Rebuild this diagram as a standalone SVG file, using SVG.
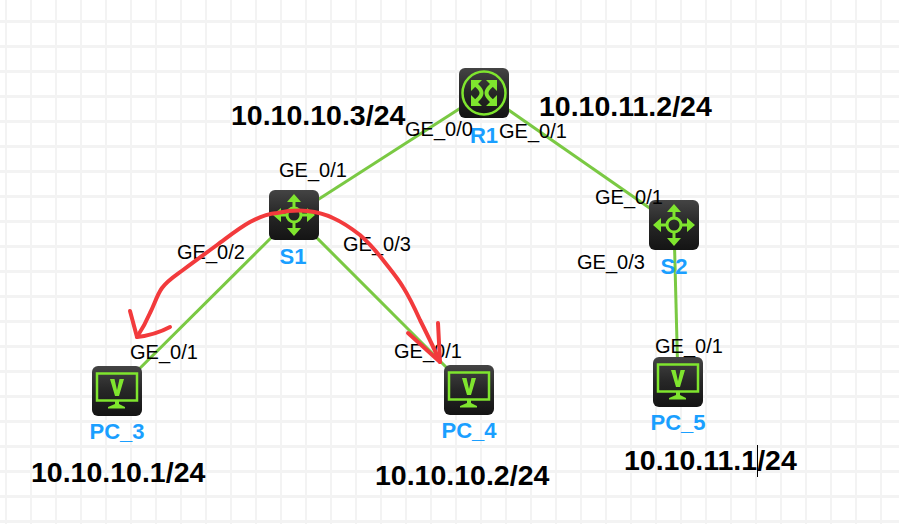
<svg xmlns="http://www.w3.org/2000/svg" width="899" height="524" viewBox="0 0 899 524">
<style>
.port{font-family:"Liberation Sans",Arial,sans-serif;font-size:20px;fill:#000}
.name{font-family:"Liberation Sans",Arial,sans-serif;font-size:22px;font-weight:bold;fill:#1a9fff;text-anchor:middle}
.ip{font-family:"Liberation Sans",Arial,sans-serif;font-size:28.500px;font-weight:bold;fill:#000}
.link{stroke:#7ac943;stroke-width:3;fill:none}
.red{stroke:#f23a3c;stroke-width:4;fill:none;stroke-linecap:round;stroke-linejoin:round}
.g{stroke:#7fe52e;fill:none}
.gf{fill:#7fe52e}
</style>
<defs>
<pattern id="grid" width="25" height="25" patternUnits="userSpaceOnUse">
<rect width="25" height="25" fill="#fff"/>
<rect x="5" width="2" height="25" fill="#f3f3f3"/>
<rect y="20" width="25" height="3" fill="#f3f3f3"/>
</pattern>
<linearGradient id="dark" x1="0" y1="0" x2="0" y2="1">
<stop offset="0" stop-color="#444"/><stop offset="0.5" stop-color="#262626"/><stop offset="1" stop-color="#141414"/>
</linearGradient>
<symbol id="router" width="50" height="50" viewBox="0 0 50 50">
<rect width="50" height="50" rx="6" fill="url(#dark)"/>
<circle cx="25" cy="25" r="21.500" class="g" stroke-width="2.500"/>
<path class="gf" d="M12 12h11l-11 11zM38 12v11L27 12zM12 38V27l11 11zM38 38H27l11-11z"/>
<path class="g" stroke-width="4" d="M15 15C20 20 22.500 21 22.500 25C22.500 29 20 30 15 35M35 15C30 20 27.500 21 27.500 25C27.500 29 30 30 35 35"/>
</symbol>
<symbol id="switch" width="50" height="50" viewBox="0 0 50 50">
<rect width="50" height="50" rx="6" fill="url(#dark)"/>
<circle cx="25" cy="25" r="7" class="g" stroke-width="3"/>
<path class="g" stroke-width="3" d="M25 18V8M25 32V42M18 25H8M32 25H42"/>
<path class="gf" d="M25 4l7 8h-14zM25 46l-7-8h14zM4 25l8-7v14zM46 25l-8 7v-14z"/>
</symbol>
<symbol id="pc" width="50" height="50" viewBox="0 0 50 50">
<rect width="50" height="50" rx="6" fill="url(#dark)"/>
<rect x="5" y="7.500" width="40" height="27" class="g" stroke-width="2.500"/>
<path class="gf" d="M18 13h4.500l2.500 11 2.500-11H32l-5 17h-4z"/>
<path class="gf" d="M23 35h4v3l6 3v1.500H16V41l7-3z"/>
</symbol>
</defs>
<rect id="background" width="899" height="524" fill="url(#grid)"/>
<g id="connectors">
<line class="link" x1="484" y1="93" x2="294" y2="215"/>
<line class="link" x1="484" y1="93" x2="674" y2="225"/>
<line class="link" x1="294" y1="215" x2="117" y2="391"/>
<line class="link" x1="294" y1="215" x2="469" y2="390"/>
<line class="link" x1="674" y1="225" x2="678" y2="382"/>
</g>
<g id="R1"><use href="#router" x="459" y="68"/><text class="name" x="484" y="143">R1</text></g>
<g id="S1"><use href="#switch" x="269" y="190"/><text class="name" x="293" y="264">S1</text></g>
<g id="S2"><use href="#switch" x="649" y="200"/><text class="name" x="674" y="274">S2</text></g>
<g id="PC_3"><use href="#pc" x="92" y="366"/><text class="name" x="117" y="439">PC_3</text></g>
<g id="PC_4"><use href="#pc" x="444" y="365"/><text class="name" x="469" y="438">PC_4</text></g>
<g id="PC_5"><use href="#pc" x="653" y="357"/><text class="name" x="678" y="430">PC_5</text></g>
<g id="port-labels">
<text class="port" x="405" y="136">GE_0/0</text>
<text class="port" x="499" y="138">GE_0/1</text>
<text class="port" x="279" y="177">GE_0/1</text>
<text class="port" x="177" y="259">GE_0/2</text>
<text class="port" x="343" y="251">GE_0/3</text>
<text class="port" x="130" y="359">GE_0/1</text>
<text class="port" x="394" y="358">GE_0/1</text>
<text class="port" x="595" y="204">GE_0/1</text>
<text class="port" x="577" y="269">GE_0/3</text>
<text class="port" x="655" y="353">GE_0/1</text>
</g>
<g id="ip-labels">
<text class="ip" x="231" y="125">10.10.10.3/24</text>
<text class="ip" x="539" y="116">10.10.11.2/24</text>
<text class="ip" x="31" y="482">10.10.10.1/24</text>
<text class="ip" x="375" y="485">10.10.10.2/24</text>
<text class="ip" x="624" y="470">10.10.11.1/24</text>
</g>
<line id="cursor" x1="757.500" y1="445" x2="757.500" y2="477" stroke="#000" stroke-width="1"/>
<g id="annotations">
<path class="red" d="M137 337C143 328 147 320 150 313C155 303 157 295 162 288C168 280 175 276 183 270C195 261 206 253 217 245C228 237 239 228 250 222C259 217 267 214 277 213C287 211 297 210 307 211C316 212 325 214 333 218C342 222 351 228 360 235C368 242 376 251 383 260C390 269 397 277 403 287C410 298 415 309 420 320C427 334 434 348 440 362"/>
<path class="red" d="M130 311L137 337Q155 335 170 327"/>
<path class="red" d="M438 323L440 362L408 333"/>
</g>
</svg>
